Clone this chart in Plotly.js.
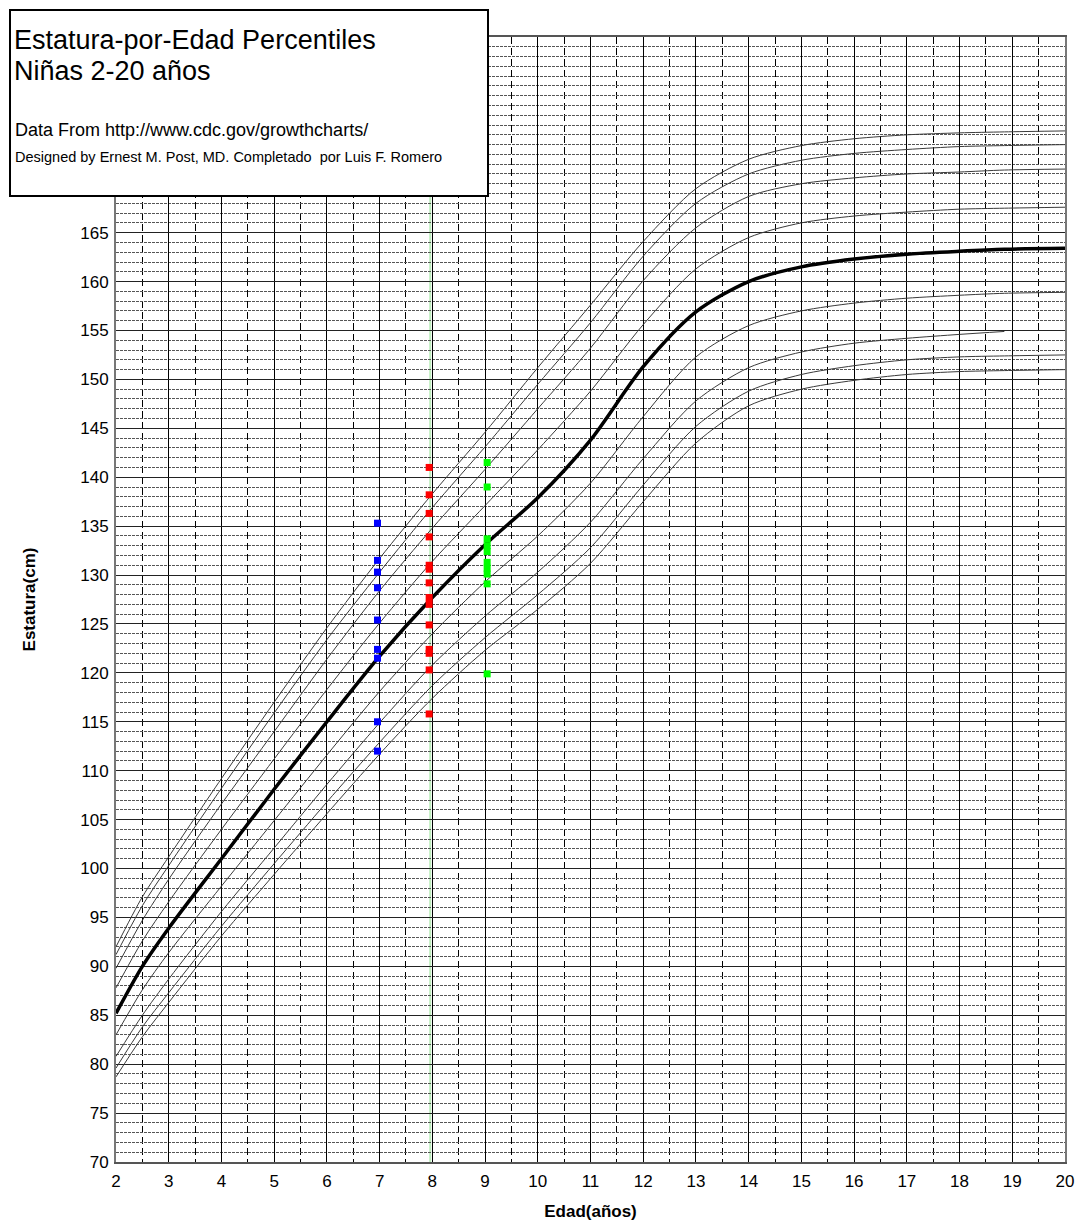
<!DOCTYPE html>
<html>
<head>
<meta charset="utf-8">
<script src="https://cdn.plot.ly/plotly-3.0.1.min.js"></script>
<style>
html,body{margin:0;padding:0;background:#fff;}
#chart{width:1085px;height:1228px;}
</style>
</head>
<body>
<div id="chart"></div>
<script>
// ---- Data ----
const ages = [2, 2.5, 3, 4, 5, 6, 7, 8, 9, 10, 11, 12, 13, 14, 15, 16, 17, 18, 18.85, 20];
const p3  = [78.7, 82.8, 86.3, 93.1, 99.4, 105.6, 111.7, 117.4, 122.3, 126.5, 131.2, 137.5, 143.5, 147.3, 149.0, 149.9, 150.5, 150.8, 150.9, 151.0];
const p5  = [79.6, 83.8, 87.3, 94.1, 100.5, 106.8, 112.9, 118.7, 123.6, 128.0, 132.8, 139.2, 145.2, 148.8, 150.5, 151.4, 152.0, 152.3, 152.4, 152.5];
const p10 = [80.8, 85.0, 88.7, 95.6, 102.1, 108.6, 114.9, 120.8, 125.8, 130.3, 135.4, 141.9, 147.8, 151.2, 152.8, 153.7, 154.2, 154.6, 154.9, null];
const p25 = [83.0, 87.6, 91.4, 98.2, 104.9, 111.6, 118.1, 124.0, 129.3, 134.0, 139.4, 146.2, 152.3, 155.5, 157.0, 157.8, 158.3, 158.6, 158.8, 158.9];
const p50 = [85.2, 90.0, 93.9, 101.0, 108.1, 115.0, 121.7, 127.7, 133.1, 137.9, 143.8, 151.3, 156.9, 160.0, 161.5, 162.3, 162.8, 163.1, 163.3, 163.4];
const p75 = [87.8, 92.6, 96.6, 104.0, 111.2, 118.3, 125.1, 131.4, 137.1, 142.8, 148.8, 155.6, 161.3, 164.5, 166.0, 166.7, 167.1, 167.4, 167.5, 167.6];
const p90 = [89.8, 94.7, 98.9, 106.6, 114.0, 121.4, 128.4, 134.8, 140.8, 147.0, 153.2, 160.1, 165.5, 168.7, 170.0, 170.6, 171.0, 171.2, 171.4, 171.5];
const p95 = [91.2, 96.2, 100.3, 108.2, 115.9, 123.4, 130.3, 136.9, 143.1, 149.5, 155.8, 162.6, 168.0, 171.0, 172.4, 173.1, 173.5, 173.8, 173.9, 174.0];
const p97 = [92.0, 97.1, 101.2, 109.2, 117.0, 124.6, 131.7, 138.3, 144.6, 151.2, 157.6, 164.1, 169.5, 172.5, 173.9, 174.6, 175.0, 175.2, 175.3, 175.4];

// Patient measurements
const blueAge = 6.96;
const blueH = [135.3, 131.5, 130.3, 128.7, 125.4, 122.4, 121.5, 115.0, 112.0];
const redAge = 7.94;
const redH = [141.0, 138.2, 136.3, 133.9, 131.0, 130.6, 129.2, 127.7, 127.0, 124.9, 122.4, 122.0, 120.3, 115.8];
const greenAge = 9.04;
const greenH = [141.5, 139.0, 133.7, 133.0, 132.4, 131.3, 130.7, 130.1, 129.1, 119.9];
const markerAge = 7.96;

const xTicks = [2,3,4,5,6,7,8,9,10,11,12,13,14,15,16,17,18,19,20];
const yTicks = [70,75,80,85,90,95,100,105,110,115,120,125,130,135,140,145,150,155,160,165];

// ---- Traces ----
const thin = {color:'#3a3a3a', width:1, shape:'spline', smoothing:0.8};
const mk = (y, name) => ({x: ages, y: y, mode:'lines', name: name, line: thin, connectgaps:false, hoverinfo:'skip'});
const rep = (v, n) => Array(n).fill(v);

const traces = [
  mk(p3,'P3'), mk(p5,'P5'), mk(p10,'P10'), mk(p25,'P25'),
  mk(p75,'P75'), mk(p90,'P90'), mk(p95,'P95'), mk(p97,'P97'),
  {x: ages, y: p50, mode:'lines', name:'P50', line:{color:'#000', width:3.5, shape:'spline', smoothing:0.8}},
  {x: rep(blueAge, blueH.length), y: blueH, mode:'markers', name:'7 años',
   marker:{symbol:'square', size:7, color:'#0000ff'}},
  {x: rep(redAge, redH.length), y: redH, mode:'markers', name:'8 años',
   marker:{symbol:'square', size:7, color:'#ff0000'}},
  {x: rep(greenAge, greenH.length), y: greenH, mode:'markers', name:'9 años',
   marker:{symbol:'square', size:7, color:'#00ff00'}}
];

const FONT = 'Liberation Sans, Arial, sans-serif';
const W = 1085, H = 1228;
const L = 116, R = 20, T = 37, B = 66;
const pw = W - L - R, ph = H - T - B;
const px = v => (v - L) / pw;
const py = v => (H - B - v) / ph;

const layout = {
  width: W, height: H,
  margin: {l: L, r: R, t: T, b: B, pad: 0},
  paper_bgcolor: '#fff', plot_bgcolor: '#fff',
  showlegend: false,
  font: {family: FONT, color: '#000', size: 17},
  xaxis: {
    range: [2, 20], tickvals: xTicks, ticktext: xTicks.map(String),
    showgrid: true, gridcolor: '#000', gridwidth: 1,
    minor: {dtick: 0.5, tick0: 2, showgrid: true, gridcolor: '#000', gridwidth: 1, griddash: '7px,4px'},
    showline: true, linecolor: '#555', linewidth: 2, mirror: true,
    ticks: 'outside', ticklen: 3, tickcolor: 'rgba(0,0,0,0)', zeroline: false,
    tickfont: {size: 17, family: FONT},
    title: {text: 'Edad(años)', font: {size: 17, family: FONT, weight: 'bold'}, standoff: 15}
  },
  yaxis: {
    range: [70, 185], tickvals: yTicks, ticktext: yTicks.map(String),
    showgrid: true, gridcolor: '#222', gridwidth: 1,
    minor: {dtick: 1, tick0: 70, showgrid: true, gridcolor: '#555', gridwidth: 1, griddash: '3px,1px'},
    showline: true, linecolor: '#777', linewidth: 2, mirror: true,
    ticks: 'outside', ticklen: 2, tickcolor: 'rgba(0,0,0,0)', zeroline: false,
    tickfont: {size: 17, family: FONT},
    title: {text: 'Estatura(cm)', font: {size: 17, family: FONT, weight: 'bold'}, standoff: 40}
  },
  shapes: [
    {type: 'line', xref: 'x', yref: 'paper', x0: markerAge, x1: markerAge, y0: 0, y1: 1,
     line: {color: '#bdeebd', width: 2}, layer: 'between'},
    {type: 'rect', xref: 'paper', yref: 'paper', x0: px(10), x1: px(488), y0: py(196), y1: py(10),
     fillcolor: '#fff', line: {color: '#000', width: 2}, layer: 'above'}
  ],
  annotations: [
    {xref:'paper', yref:'paper', x: px(12), y: py(57), xanchor:'left', yanchor:'bottom', showarrow:false,
     text:'Estatura-por-Edad Percentiles', font:{size:27, family:FONT, color:'#000'}},
    {xref:'paper', yref:'paper', x: px(12), y: py(88), xanchor:'left', yanchor:'bottom', showarrow:false,
     text:'Niñas 2-20 años', font:{size:27, family:FONT, color:'#000'}},
    {xref:'paper', yref:'paper', x: px(13), y: py(142), xanchor:'left', yanchor:'bottom', showarrow:false,
     text:'Data From http://www.cdc.gov/growthcharts/', font:{size:18, family:FONT, color:'#000'}},
    {xref:'paper', yref:'paper', x: px(13), y: py(167), xanchor:'left', yanchor:'bottom', showarrow:false,
     text:'Designed by Ernest M. Post, MD. Completado  por Luis F. Romero', font:{size:14.5, family:FONT, color:'#000'}}
  ]
};

Plotly.newPlot('chart', traces, layout, {staticPlot: true, displayModeBar: false});
</script>
</body>
</html>
